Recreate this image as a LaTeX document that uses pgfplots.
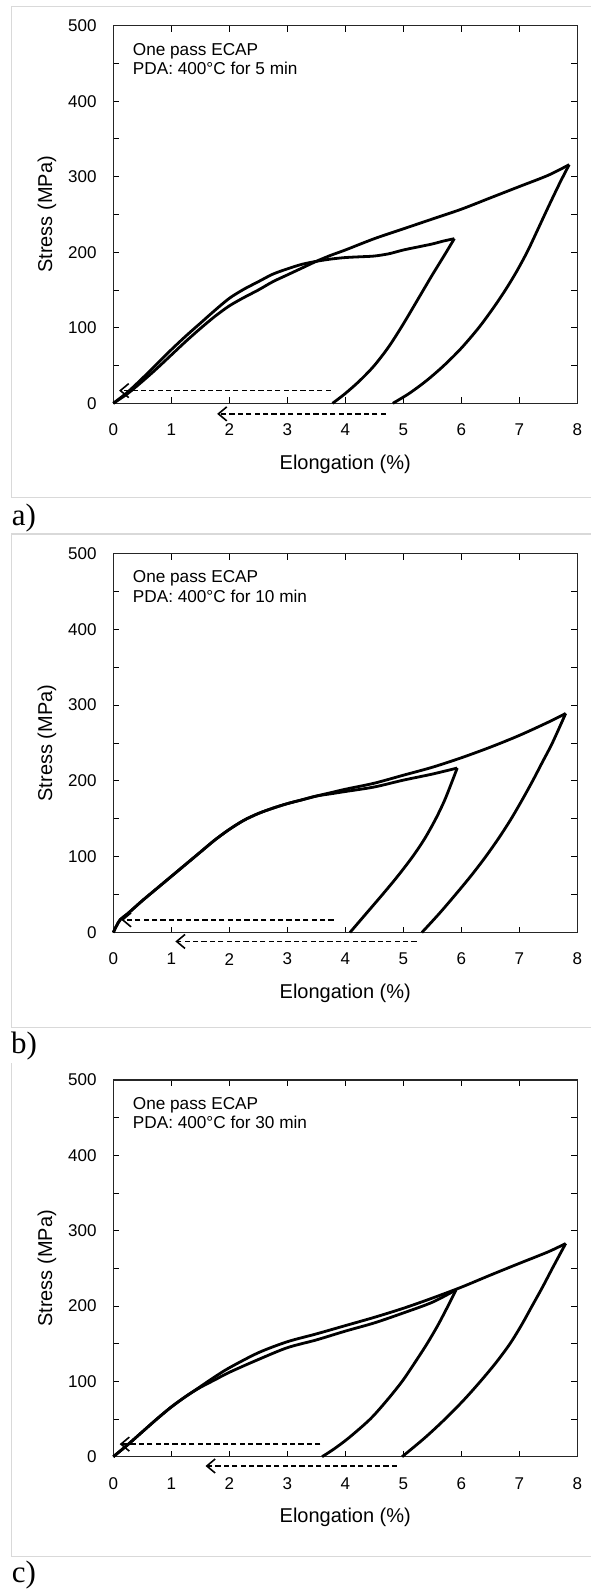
\documentclass[border=0pt]{standalone}
\usepackage{fontspec}
\setmainfont{Liberation Sans}
\newfontfamily\labfont{Liberation Serif}
\usepackage{pgfplots}
\pgfplotsset{compat=1.18}
\usetikzlibrary{arrows.meta}
\definecolor{framegray}{RGB}{217,217,217}

\pgfplotsset{
  ecap/.style={
    scale only axis, width=232pt,
    xmin=0, xmax=8, ymin=0, ymax=500,
    xtick={0,...,8}, ytick={0,100,...,500}, minor ytick={50,150,...,450},
    tick align=inside, major tick length=3pt, minor tick length=3pt,
    tick style={black, line width=0.5pt},
    axis line style={black!85, line width=0.6pt},
    clip=false,
    /pgf/number format/assume math mode=true,
    tick label style={font=\fontsize{8.5}{10}\selectfont, inner sep=0pt},
    xticklabel style={anchor=center, yshift=-13.3pt},
    yticklabel style={anchor=east, xshift=-8.15pt},
    label style={font=\fontsize{10}{12}\selectfont},
    every axis x label/.style={at={(axis description cs:0.5,-0.1615)}, anchor=center},
    every axis y label/.style={at={(axis description cs:-0.1429,0.5)}, rotate=90, anchor=center},
    xlabel={Elongation (\%)}, ylabel={Stress (MPa)},
  },
  curve/.style={black, line width=1.4pt, smooth, tension=0.5, line join=round, no markers},
  recov/.style={black, line width=0.8pt, dash pattern=on 2.6pt off 1.6pt, no markers,
    -{Straight Barb[length=4.2pt,width=7pt]}},
}
\tikzset{note/.style={anchor=base west, inner sep=0pt, font=\fontsize{8.6}{10}\selectfont}}

\begin{document}
\begin{tikzpicture}
\useasboundingbox (0,0) rectangle (295pt,-795.5pt);

% frames and panel letters
\draw[framegray, line width=0.6pt] (296pt,-3.35pt) -- (5.85pt,-3.35pt) -- (5.85pt,-248.65pt) -- (296pt,-248.65pt);
\draw[framegray, line width=0.6pt] (296pt,-267pt) -- (5.85pt,-267pt) -- (5.85pt,-513.65pt) -- (296pt,-513.65pt);
\draw[framegray, line width=0.6pt] (5.85pt,-531.65pt) -- (5.85pt,-778.35pt) -- (296pt,-778.35pt);
\node[inner sep=0pt, font=\labfont\fontsize{15.5}{18}\selectfont] at (12pt,-259.15pt) {a)};
\node[inner sep=0pt, font=\labfont\fontsize{15.5}{18}\selectfont] at (12pt,-523.25pt) {b)};
\node[inner sep=0pt, font=\labfont\fontsize{15.5}{18}\selectfont] at (12pt,-787.5pt) {c)};

% a) 5 min
\begin{axis}[ecap, at={(56.65pt,-201.65pt)}, anchor=south west, height=188.8pt]
\addplot[curve] coordinates {
  (0,0) (0.25,15) (0.5,33) (0.75,52) (1,71) (1.25,89) (1.5,106) (1.75,123)
  (2,139) (2.25,151) (2.5,161) (2.75,171) (3,178) (3.25,184) (3.5,188)
  (3.75,191) (4,193) (4.25,194) (4.5,195) (4.75,198) (5,203) (5.25,207)
  (5.5,211) (5.7,215) (5.88,218)};
\addplot[curve] coordinates {
  (5.88,218) (5.7,195) (5.5,170) (5.3,144) (5.0,105) (4.75,75) (4.5,50)
  (4.25,30) (4.0,13) (3.78,0)};
\addplot[curve] coordinates {
  (0,0) (0.25,13) (0.5,29) (0.75,46) (1,64) (1.25,82) (1.5,99) (1.75,115)
  (2,129) (2.25,140) (2.5,150) (2.75,161) (3,170) (3.25,179) (3.5,188)
  (3.75,196) (4,203) (4.5,218) (5,231) (5.5,244) (6,257) (6.5,272) (7,287)
  (7.5,302) (7.86,316)};
\addplot[curve] coordinates {
  (7.86,316) (7.7,292) (7.5,260) (7.3,227) (7.14,201) (6.95,174) (6.76,150)
  (6.55,126) (6.3,100) (6,73) (5.7,50) (5.4,30) (5.1,13) (4.82,0)};
\addplot[recov] coordinates {(3.75,16.8) (0.1,16.8)};
\addplot[recov] coordinates {(4.7,-14) (1.79,-14)};
\node[note, xshift=9.6pt, yshift=-14.65pt] at (rel axis cs:0,1) {One pass ECAP};
\node[note, xshift=9.6pt, yshift=-24.45pt] at (rel axis cs:0,1) {PDA: 400°C for 5 min};
\end{axis}

% b) 10 min
\begin{axis}[ecap, at={(56.65pt,-466.25pt)}, anchor=south west, height=189.5pt]
\addplot[curve] coordinates {
  (0,0) (0.05,8) (0.12,17) (0.25,25) (0.5,42) (0.75,58) (1,74) (1.25,90)
  (1.5,106) (1.75,122) (2,136) (2.25,148) (2.5,157) (2.75,164) (3,170)
  (3.25,175) (3.5,180) (3.75,183) (4,186) (4.5,192) (5,201) (5.5,209) (5.93,217)};
\addplot[curve] coordinates {
  (5.93,217) (5.83,197) (5.71,174) (5.56,150) (5.37,124) (5.16,100) (4.9,74)
  (4.64,50) (4.36,25) (4.08,0)};
\addplot[curve] coordinates {
  (0,0) (0.05,8) (0.12,17) (0.25,25) (0.5,42) (0.75,58) (1,74) (1.25,90)
  (1.5,106) (1.75,122) (2,136) (2.25,148) (2.5,157) (2.75,164) (3,170)
  (3.25,175) (3.5,180) (3.75,184.5) (4,189) (4.5,197) (5,207.5) (5.5,218)
  (6,230.5) (6.5,244.5) (7,260) (7.5,277.5) (7.8,289)};
\addplot[curve] coordinates {
  (7.8,289) (7.57,250) (7.4,225) (7.23,200) (7.05,175) (6.86,150) (6.65,125)
  (6.42,100) (6.17,75) (5.9,50) (5.62,25) (5.32,0)};
\addplot[recov] coordinates {(3.8,16.7) (0.14,16.7)};
\addplot[recov] coordinates {(5.23,-11.8) (1.07,-11.8)};
\node[note, xshift=9.6pt, yshift=-14.65pt] at (rel axis cs:0,1) {One pass ECAP};
\node[note, xshift=9.6pt, yshift=-24.45pt] at (rel axis cs:0,1) {PDA: 400°C for 10 min};
\end{axis}

% c) 30 min
\begin{axis}[ecap, at={(56.65pt,-728.35pt)}, anchor=south west, height=188.35pt]
\addplot[curve] coordinates {
  (0,0) (0.25,16) (0.5,33) (0.75,50) (1,66) (1.25,80) (1.5,92) (1.75,102)
  (2,112) (2.5,129) (3,144.7) (3.5,155) (4,166.7) (4.5,177.6) (5,190.8)
  (5.5,205) (5.91,221.5)};
\addplot[curve] coordinates {
  (5.91,221.5) (5.77,200) (5.6,175) (5.41,150) (5.2,125) (4.98,100) (4.72,75)
  (4.43,50) (4.06,25) (3.8,10) (3.6,0)};
\addplot[curve] coordinates {
  (0,0) (0.25,16) (0.5,33) (0.75,50) (1,66) (1.25,80) (1.5,93) (1.75,106)
  (2,118) (2.5,138) (3,152.6) (3.5,163) (4,174) (4.5,185) (5,197) (5.5,210.5)
  (6,225) (6.5,241) (7,256.6) (7.5,272) (7.8,283)};
\addplot[curve] coordinates {
  (7.8,283) (7.57,250) (7.4,225) (7.22,200) (7.04,175) (6.84,150) (6.6,125)
  (6.33,100) (6.04,75) (5.72,50) (5.37,25) (4.98,0)};
\addplot[recov] coordinates {(3.57,16.7) (0.11,16.7)};
\addplot[recov] coordinates {(4.89,-12.3) (1.59,-12.3)};
\node[note, xshift=9.6pt, yshift=-14.65pt] at (rel axis cs:0,1) {One pass ECAP};
\node[note, xshift=9.6pt, yshift=-24.45pt] at (rel axis cs:0,1) {PDA: 400°C for 30 min};
\end{axis}
\end{tikzpicture}
\end{document}
